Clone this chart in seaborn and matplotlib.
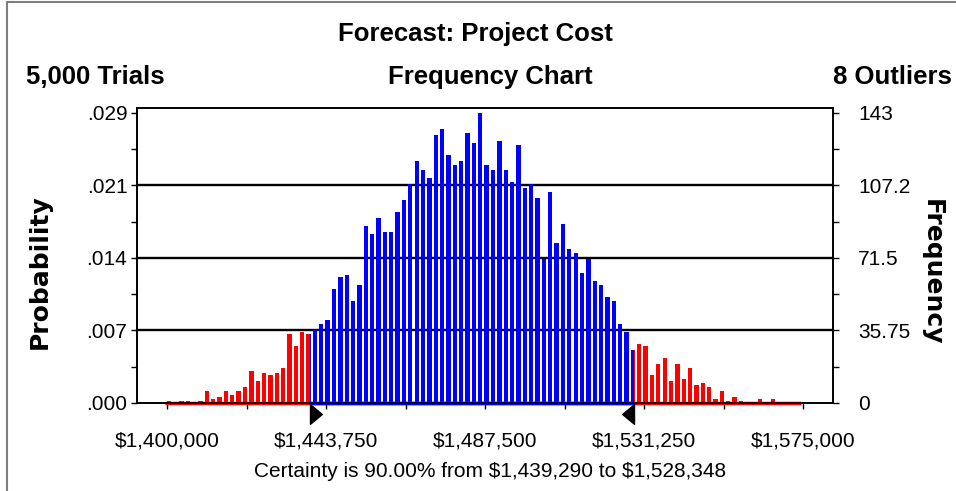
import numpy as np
import pandas as pd
import matplotlib
matplotlib.use("Agg")
import matplotlib.pyplot as plt
from matplotlib.patches import Rectangle
from matplotlib.path import Path
from matplotlib.lines import Line2D
import seaborn as sns

# values: 100 bins of $1,750 each
bin_start = 1399500
bin_width = 1750
counts = [1, 0, 1, 1, 0, 1, 6, 2, 3, 6, 4, 6, 8, 16, 11, 15, 14, 15, 17, 34, 28, 35,
          34, 36, 39, 41, 56, 62, 63, 50, 58, 87, 83, 91, 84, 84, 94, 100, 108, 119, 115, 111,
          132, 135, 122, 117, 119, 133, 128, 143, 117, 115, 129, 115, 109, 127, 106, 108, 101, 71, 104,
          79, 88, 76, 74, 64, 71, 60, 58, 52, 50, 39, 35, 26,
          29, 28, 14, 19, 22, 11, 19, 12, 17, 9, 10, 8, 2, 6, 1, 3, 1, 0, 0, 2, 0, 2, 0, 0, 0, 0]
trials = 5000
outliers = 8
certainty = 90.00
cert_lo = 1439290
cert_hi = 1528348

x_ticks = [1400000, 1421875, 1443750, 1465625, 1487500, 1509375, 1531250, 1553125, 1575000]
x_labels = ["$1,400,000", "", "$1,443,750", "", "$1,487,500", "", "$1,531,250", "", "$1,575,000"]
freq_ticks = [0, 35.75, 71.5, 107.25, 143]
freq_labels = ["0", "35.75", "71.5", "107.2", "143"]
prob_labels = [".000", ".007", ".014", ".021", ".029"]

edges = [bin_start + bin_width * i for i in range(len(counts) + 1)]
centers = [(a + b) / 2 for a, b in zip(edges[:-1], edges[1:])]
df = pd.DataFrame({"cost": centers, "freq": counts})

sns.set_style("white")
plt.rcParams["font.family"] = ["Liberation Sans", "DejaVu Sans"]
plt.rcParams["text.color"] = "black"
plt.rcParams["xtick.color"] = "black"
plt.rcParams["ytick.color"] = "black"
plt.rcParams["axes.edgecolor"] = "black"

W, H = 956, 491
fig = plt.figure(figsize=(W / 100, H / 100), dpi=100)
ax = fig.add_axes([137 / W, 1 - 403 / H, (833 - 137) / W, (403 - 108) / H])

def ftext(x, y, s, **kw):
    fig.text(x / W, 1 - y / H, s, color="black", parse_math=False, **kw)

# red layer = all bins, blue layer = same bins clipped to the certainty range
sns.histplot(data=df, x="cost", weights="freq", bins=edges, shrink=0.68,
             color="#ff0000", alpha=1, edgecolor="none", linewidth=0, ax=ax, zorder=2)
n_red = len(ax.patches)
sns.histplot(data=df, x="cost", weights="freq", bins=edges, shrink=0.68,
             color="#0000ff", alpha=1, edgecolor="none", linewidth=0, ax=ax, zorder=2)
clip = Rectangle((cert_lo, -0.1), cert_hi - cert_lo, 1.2, transform=ax.get_xaxis_transform())
for p in ax.patches[n_red:]:
    p.set_clip_path(clip)

ax.hlines(0, edges[0], edges[-1], colors="#ff0000", lw=2.5, zorder=4, clip_on=False)
blue_base = ax.hlines(0, edges[0], edges[-1], colors="#0000ff", lw=2.5, zorder=4)
blue_base.set_clip_path(clip)

for y in freq_ticks[1:-1]:
    ax.axhline(y, color="black", lw=1.7, zorder=1)

ax.set_xlim(1391660, 1583190)
ax.set_ylim(0, 145.3)
ax.set_xlabel("")
ax.set_ylabel("")

ax.set_xticks(x_ticks)
ax.set_xticklabels(x_labels)
ax.set_yticks(freq_ticks)
ax.set_yticklabels(prob_labels)
ax.set_yticks([(a + b) / 2 for a, b in zip(freq_ticks[:-1], freq_ticks[1:])], minor=True)
ax.tick_params(axis="x", direction="out", length=4.5, width=1, pad=16, labelsize=15,
               bottom=True, colors="black")
ax.tick_params(axis="y", which="both", direction="out", length=4, width=1, pad=3,
               labelsize=15, left=True, colors="black")

ax2 = ax.twinx()
ax2.set_ylim(ax.get_ylim())
ax2.set_yticks(freq_ticks)
ax2.set_yticklabels(freq_labels)
ax2.set_yticks(ax.get_yticks(minor=True), minor=True)
ax2.tick_params(axis="y", which="both", direction="out", length=4, width=1, pad=14,
                labelsize=15, right=True, colors="black")
ax2.grid(False)

for a in (ax, ax2):
    for s in a.spines.values():
        s.set_color("black")
        s.set_linewidth(1.2)

# certainty grabbers below the axis
tri_r = Path([(0, 1), (0, -1), (1.2, 0), (0, 1)], [Path.MOVETO, Path.LINETO, Path.LINETO, Path.CLOSEPOLY])
tri_l = Path([(0, 1), (0, -1), (-1.2, 0), (0, 1)], [Path.MOVETO, Path.LINETO, Path.LINETO, Path.CLOSEPOLY])
ax.plot([cert_lo], [-0.037], marker=tri_r, ms=17, color="black", transform=ax.get_xaxis_transform(),
        clip_on=False, zorder=5)
ax.plot([cert_hi], [-0.037], marker=tri_l, ms=17, color="black", transform=ax.get_xaxis_transform(),
        clip_on=False, zorder=5)

# header texts
ftext(475, 41, "Forecast: Project Cost", ha="center", va="baseline", fontsize=18.5, fontweight="bold")
ftext(26, 84, f"{trials:,} Trials", ha="left", va="baseline", fontsize=18.5, fontweight="bold")
ftext(490, 84, "Frequency Chart", ha="center", va="baseline", fontsize=18.5, fontweight="bold")
ftext(952, 84, f"{outliers} Outliers", ha="right", va="baseline", fontsize=18.5, fontweight="bold")
ftext(490, 477, f"Certainty is {certainty:.2f}% from ${cert_lo:,} to ${cert_hi:,}",
      ha="center", va="baseline", fontsize=15)
ftext(40, 272, "Probability", ha="center", va="center", rotation=90, fontsize=18,
      fontweight="bold", family="DejaVu Sans")
ftext(932, 272, "Frequency", ha="center", va="center", rotation=270, fontsize=18,
      fontweight="bold", family="DejaVu Sans")

# window frame (top and left edges)
fig.add_artist(Line2D([7 / W, 1], [1 - 1.5 / H, 1 - 1.5 / H], color="#7f7f7f", lw=1.5))
fig.add_artist(Line2D([7 / W, 7 / W], [0, 1 - 1.5 / H], color="#7f7f7f", lw=1.5))

fig.savefig("out.png", dpi=100)
